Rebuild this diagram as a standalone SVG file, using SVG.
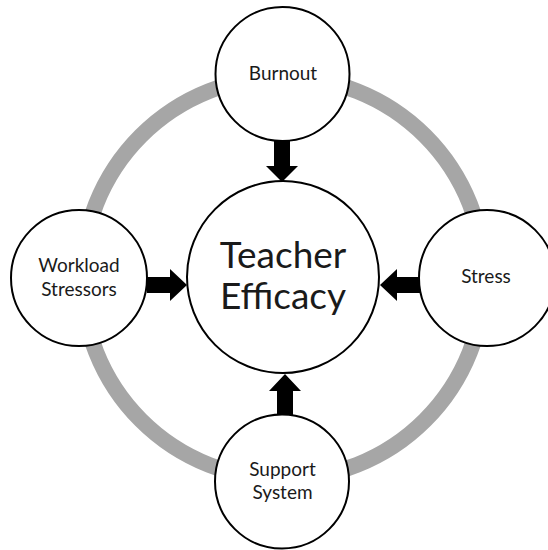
<svg xmlns="http://www.w3.org/2000/svg" width="548" height="550" viewBox="0 0 548 550">
<style>
.node{fill:#fff;stroke:#000;stroke-width:2}
.lbl{font-family:Lato,"Open Sans","Liberation Sans",sans-serif;font-size:19px;fill:#1a1a1a;text-anchor:middle}
.big{font-size:37px}
.arrow{fill:#000}
.ring{fill:none;stroke:#a6a6a6;stroke-width:16}
</style>
<rect width="548" height="550" fill="#fff"/>
<g id="cycle"><circle class="ring" cx="283" cy="278" r="201"/></g>
<g id="connectors">
<polygon class="arrow" points="274,141 290,141 290,166 298,166 282,182 266,166 274,166"/>
<polygon class="arrow" points="285,374 301,391 293,391 293,416 277,416 277,391 269,391"/>
<polygon class="arrow" points="147,277 170,277 170,269 187,285 170,301 170,293 147,293"/>
<polygon class="arrow" points="380,285 397,269 397,277 421,277 421,293 397,293 397,301"/>
</g>
<g id="teacher-efficacy"><circle class="node" cx="283" cy="277" r="96"/>
<text class="lbl big" x="283" y="268">Teacher</text><text class="lbl big" x="283" y="309">Efficacy</text></g>
<g id="burnout"><circle class="node" cx="282.5" cy="74" r="67"/><text class="lbl" x="283" y="80">Burnout</text></g>
<g id="workload-stressors"><circle class="node" cx="79" cy="278" r="68"/>
<text class="lbl" x="79" y="272">Workload</text><text class="lbl" x="79" y="296">Stressors</text></g>
<g id="stress"><circle class="node" cx="487" cy="278" r="68"/><text class="lbl" x="486" y="283">Stress</text></g>
<g id="support-system"><circle class="node" cx="282" cy="481.5" r="67"/>
<text class="lbl" x="282.5" y="476">Support</text><text class="lbl" x="282.5" y="499">System</text></g>
</svg>
